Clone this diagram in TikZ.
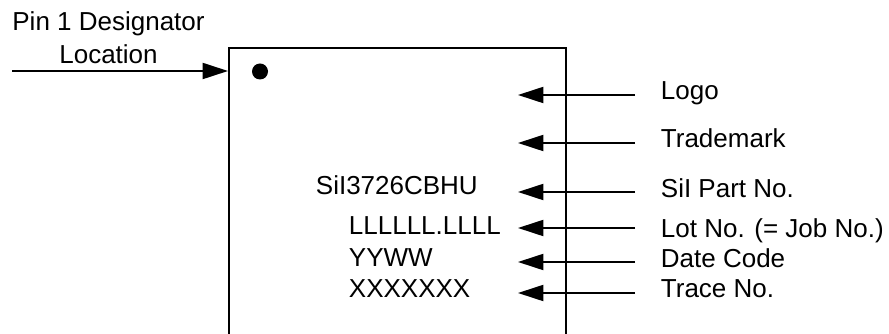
\documentclass[tikz,border=0pt]{standalone}
\usepackage{fontspec}
\setmainfont{Liberation Sans}
\usetikzlibrary{arrows.meta}

\begin{document}
\begin{tikzpicture}[x=0.75pt,y=-0.75pt,line width=1.4pt,
  font=\fontsize{19.5}{24.75}\selectfont,
  >={Triangle[length=19pt,width=12pt]},
  lbl/.style={anchor=west, inner xsep=18.75pt, inner ysep=0pt, text height=.716em, text depth=0pt},
  marking/.style={anchor=west, inner sep=0pt, text height=.716em, text depth=0pt}]
\useasboundingbox (0,0) rectangle (889,334);
\node[draw, anchor=north west, inner sep=0pt, minimum width=252.75pt, minimum height=265pt](chip) at (228,47) {};
\fill (260,71.5) circle[radius=6pt];
\node[align=center, anchor=base](pin) at (108.5,64) {Pin 1 Designator\\Location};
\coordinate(P) at (12,71);
\path[->] (P) edge (P -| chip.west);
% chip markings
\node[marking](part) at (315,190) {SiI3726CBHU};
\node[marking](lot) at (348,230) {LLLLLL.LLLL};
\node[marking](date) at (348,262) {YYWW};
\node[marking](trace) at (348,293) {XXXXXXX};
% callouts
\coordinate(T1) at (518,95);
\coordinate(T2) at (518,143);
\coordinate(T3) at (518,192);
\coordinate(T4) at (518,228);
\coordinate(T5) at (518,262);
\coordinate(T6) at (518,293);
\node[lbl](logo) at (635,95) {Logo};
\node[lbl](tm) at (635,143) {Trademark};
\node[lbl](partno) at (635,193) {SiI Part No.};
\node[lbl](lotno) at (635,233) {Lot No. (= Job No.)};
\node[lbl](datecode) at (635,263) {Date Code};
\node[lbl](traceno) at (635,293) {Trace No.};
\path[->]
(logo.west |- T1) edge (T1)
(tm.west |- T2) edge (T2)
(partno.west |- T3) edge (T3)
(lotno.west |- T4) edge (T4)
(datecode.west |- T5) edge (T5)
(traceno.west |- T6) edge (T6);
\end{tikzpicture}
\end{document}
